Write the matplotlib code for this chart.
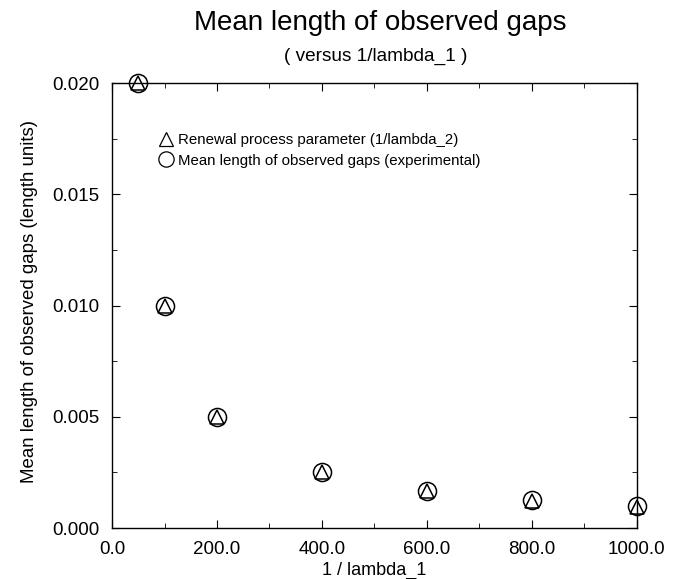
import matplotlib
matplotlib.use("Agg")
import matplotlib.pyplot as plt
from matplotlib.ticker import MultipleLocator, FormatStrFormatter

plt.rcParams["font.family"] = ["Liberation Sans", "DejaVu Sans"]

# 1/lambda_1 values and the two measured series
inv_lambda1 = [50, 100, 200, 400, 600, 800, 1000]
renewal_param = [0.0200, 0.0100, 0.0050, 0.0025, 0.00165, 0.00122, 0.00095]
mean_gap = [0.0200, 0.0100, 0.0050, 0.0025, 0.00167, 0.00125, 0.00100]

fig = plt.figure(figsize=(6.79, 5.79), dpi=100)
ax = fig.add_axes([0.165, 0.088, 0.773, 0.7686])

ax.plot(inv_lambda1, renewal_param, linestyle="none", marker="^", markersize=10.5,
        markerfacecolor="none", markeredgecolor="black", markeredgewidth=1.1,
        clip_on=False, zorder=3, label="Renewal process parameter (1/lambda_2)")
ax.plot(inv_lambda1, mean_gap, linestyle="none", marker="o", markersize=13,
        markerfacecolor="none", markeredgecolor="black", markeredgewidth=1.1,
        clip_on=False, zorder=3, label="Mean length of observed gaps (experimental)")

ax.set_xlim(0, 1000)
ax.set_ylim(0, 0.02)
ax.xaxis.set_major_locator(MultipleLocator(200))
ax.xaxis.set_minor_locator(MultipleLocator(100))
ax.yaxis.set_major_locator(MultipleLocator(0.005))
ax.yaxis.set_minor_locator(MultipleLocator(0.0025))
ax.xaxis.set_major_formatter(FormatStrFormatter("%.1f"))
ax.yaxis.set_major_formatter(FormatStrFormatter("%.3f"))
ax.tick_params(which="both", direction="in", top=True, right=True)
ax.tick_params(which="major", length=6, labelsize=13.5, pad=9)
ax.tick_params(which="minor", length=3.3)
for s in ax.spines.values():
    s.set_linewidth(1.0)

ax.set_xlabel("1 / lambda_1", fontsize=13, labelpad=3)
fig.text(30 / 679, 0.479, "Mean length of observed gaps (length units)",
         rotation=90, ha="center", va="center", fontsize=13.4)

fig.text(0.56, 0.96, "Mean length of observed gaps", ha="center", va="center", fontsize=20)
fig.text(0.554, 0.903, "( versus 1/lambda_1 )", ha="center", va="center", fontsize=13.7)

leg = ax.legend(loc="upper left", bbox_to_anchor=(0.077, 0.905), frameon=False, fontsize=10.8,
                handlelength=0.8, handletextpad=0.4, labelspacing=0.45, borderpad=0)
# legend symbols look like text glyphs, about the same size
leg.legend_handles[0].set_markersize(10)
leg.legend_handles[0].set_markeredgewidth(0.9)
leg.legend_handles[1].set_markersize(11)
leg.legend_handles[1].set_markeredgewidth(0.9)

fig.savefig("out.png", dpi=100)
